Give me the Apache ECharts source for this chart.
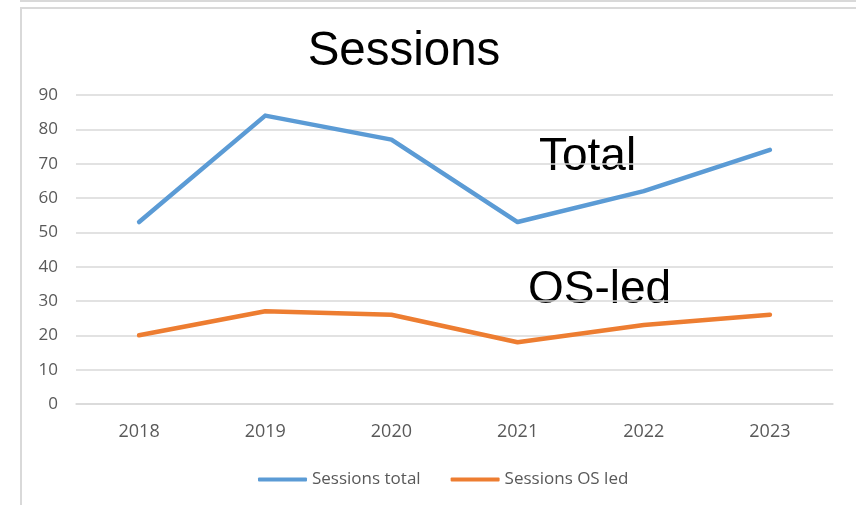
<!DOCTYPE html>
<html>
<head>
<meta charset="utf-8">
<script src="https://cdn.jsdelivr.net/npm/echarts@6/dist/echarts.min.js"></script>
<style>
  html, body { margin: 0; padding: 0; background: #fff; }
  #chart { width: 856px; height: 505px; }
</style>
</head>
<body>
<div id="chart"></div>
<script>
// data
const years = ['2018', '2019', '2020', '2021', '2022', '2023'];
const sessionsTotal = [53, 84, 77, 53, 62, 74];
const sessionsOsLed = [20, 27, 26, 18, 23, 26];
const seriesNames = ['Sessions total', 'Sessions OS led'];

const labelFont = '"Open Sans", "Liberation Sans", sans-serif';
const bigFont = '"Liberation Sans", Arial, sans-serif';
const grey = '#d9d9d9';

let chart = echarts.init(document.getElementById('chart'), null, {renderer: 'canvas'});

let option = {
    animation: false,
    color: ['#5b9bd5', '#ed7d31'],
    grid: {left: 76, right: 23, top: 95, bottom: 101},
    legend: {
        left: 253,
        top: 466,
        itemWidth: 49,
        itemHeight: 4,
        itemGap: 30,
        icon: 'roundRect',
        textStyle: {fontFamily: labelFont, fontSize: 17, color: '#595959'},
        data: seriesNames
    },
    xAxis: {
        type: 'category',
        data: years,
        boundaryGap: true,
        axisLine: {lineStyle: {color: grey, width: 1.5}},
        axisTick: {show: false},
        axisLabel: {fontFamily: labelFont, fontSize: 18, color: '#595959', margin: 19}
    },
    yAxis: {
        type: 'value',
        min: 0,
        max: 90,
        interval: 10,
        axisLine: {show: false},
        axisTick: {show: false},
        axisLabel: {fontFamily: labelFont, fontSize: 17, color: '#595959', margin: 18},
        splitLine: {lineStyle: {color: grey, width: 1.5}}
    },
    series: [
        {
            name: seriesNames[0],
            type: 'line',
            data: sessionsTotal,
            symbol: 'none',
            lineStyle: {width: 4.5, cap: 'round', join: 'round'}
        },
        {
            name: seriesNames[1],
            type: 'line',
            data: sessionsOsLed,
            symbol: 'none',
            lineStyle: {width: 4.5, cap: 'round', join: 'round'}
        }
    ],
    graphic: [
        // slide frame lines
        {
            type: 'polyline',
            shape: {points: [[20, 1], [856, 1]]},
            style: {stroke: grey, lineWidth: 2, fill: null},
            silent: true
        },
        {
            type: 'polyline',
            shape: {points: [[21, 505], [21, 8], [856, 8]]},
            style: {stroke: grey, lineWidth: 2, fill: null},
            silent: true
        },
        {
            type: 'text',
            x: 404, y: 52,
            style: {text: 'Sessions', font: '47.5px ' + bigFont, fill: '#000',
                    align: 'center', verticalAlign: 'middle'}
        },
        {
            type: 'text',
            x: 539, y: 157,
            style: {text: 'Total', font: '46px ' + bigFont, fill: '#000',
                    align: 'left', verticalAlign: 'middle'}
        },
        {
            type: 'text',
            x: 528, y: 290,
            style: {text: 'OS-led', font: '46px ' + bigFont, fill: '#000',
                    align: 'left', verticalAlign: 'middle'}
        }
    ]
};

chart.setOption(option);
</script>
</body>
</html>
